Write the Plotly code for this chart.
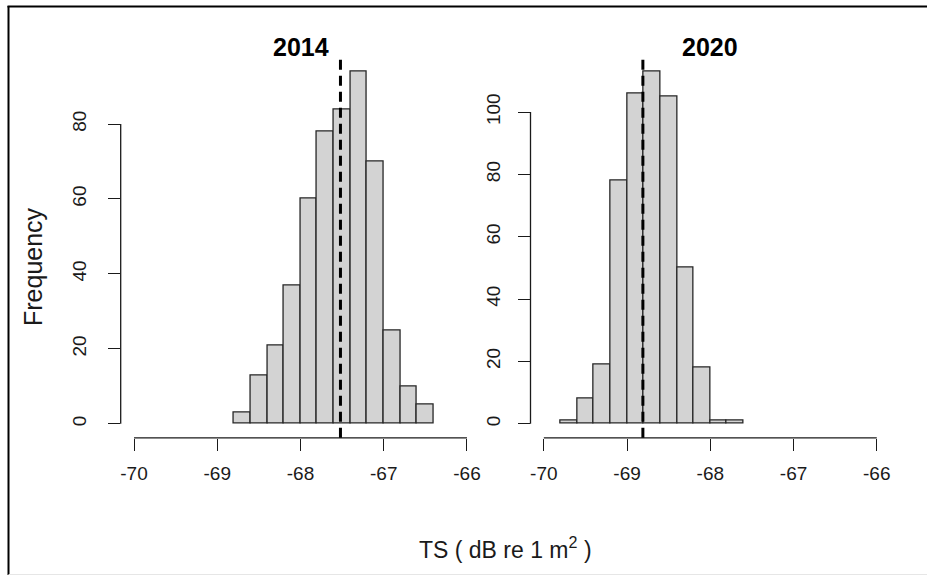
import plotly.graph_objects as go

W, H = 928, 575

# Histogram bins (left edges, bin width 0.2 dB) and counts per year
bin_width = 0.2
left_2014 = [-68.8, -68.6, -68.4, -68.2, -68.0, -67.8, -67.6, -67.4, -67.2, -67.0, -66.8, -66.6]
counts_2014 = [3, 13, 21, 37, 60, 78, 84, 94, 70, 25, 10, 5]
left_2020 = [-69.8, -69.6, -69.4, -69.2, -69.0, -68.8, -68.6, -68.4, -68.2, -68.0, -67.8]
counts_2020 = [1, 8, 19, 78, 106, 113, 105, 50, 18, 1, 1]

# Mean TS per year (dashed reference lines)
mean_2014 = -67.52
mean_2020 = -68.81

years = ["2014", "2020"]
x_ticks = [-70, -69, -68, -67, -66]
y_ticks_2014 = [0, 20, 40, 60, 80]
y_ticks_2020 = [0, 20, 40, 60, 80, 100]

FONT = "Liberation Sans, Arial, sans-serif"
INK = "#1a1a1a"


def px_x(p):
    return p / W


def px_y(p):
    return 1 - p / H


def padded(lo, hi):
    d = (hi - lo) * 0.04
    return [lo - d, hi + d]


panels = [
    dict(left=left_2014, counts=counts_2014, mean=mean_2014, yt=y_ticks_2014, title=years[0],
         dom=(120.7, 480.3), ystand=14),
    dict(left=left_2020, counts=counts_2020, mean=mean_2020, yt=y_ticks_2020, title=years[1],
         dom=(530.5, 890.1), ystand=10),
]

plot_top, plot_bottom = 57.5, 437.8

fig = go.Figure()
shapes = []
annotations = []

for i, p in enumerate(panels):
    n = "" if i == 0 else str(i + 1)
    xa, ya = "x" + n, "y" + n
    centers = [l + bin_width / 2 for l in p["left"]]
    fig.add_trace(go.Bar(
        x=centers, y=p["counts"], width=bin_width,
        marker=dict(color="#D3D3D3", line=dict(color="#262626", width=1.3)),
        xaxis=xa, yaxis=ya, showlegend=False, hoverinfo="x+y",
    ))
    xr = padded(x_ticks[0], x_ticks[-1])
    yr = padded(0, max(p["counts"]))
    fig.layout["xaxis" + n] = dict(
        domain=[px_x(p["dom"][0]), px_x(p["dom"][1])], range=xr, anchor=ya,
        tickvals=x_ticks, ticktext=[f"-{abs(v)}" for v in x_ticks],
        ticks="outside", ticklen=12, tickwidth=1.3, tickcolor=INK,
        showgrid=False, zeroline=False, showline=False,
        tickfont=dict(family=FONT, size=19, color=INK), ticklabelstandoff=6,
    )
    fig.layout["yaxis" + n] = dict(
        domain=[px_y(plot_bottom), px_y(plot_top)], range=yr, anchor=xa,
        tickvals=p["yt"], tickangle=-90,
        ticks="outside", ticklen=12, tickwidth=1.3, tickcolor=INK,
        showgrid=False, zeroline=False, showline=False,
        tickfont=dict(family=FONT, size=19, color=INK), ticklabelstandoff=p["ystand"],
    )
    # axis lines spanning only the tick range
    shapes.append(dict(type="line", xref=xa, yref=ya + " domain",
                       x0=x_ticks[0], x1=x_ticks[-1], y0=0, y1=0,
                       line=dict(color=INK, width=1.3)))
    shapes.append(dict(type="line", xref=xa + " domain", yref=ya,
                       x0=0, x1=0, y0=p["yt"][0], y1=p["yt"][-1],
                       line=dict(color=INK, width=1.3)))
    # dashed mean line
    shapes.append(dict(type="line", xref=xa, yref=ya + " domain",
                       x0=p["mean"], x1=p["mean"], y0=0, y1=1,
                       line=dict(color="black", width=3, dash="10px,6px")))
    annotations.append(dict(
        text=f"<b>{p['title']}</b>", xref="paper", yref="paper",
        x=px_x((p["dom"][0] + p["dom"][1]) / 2), y=px_y(47),
        showarrow=False, xanchor="center", yanchor="middle",
        font=dict(family=FONT, size=25, color="black"),
    ))

annotations.append(dict(
    text="Frequency", xref="paper", yref="paper", x=px_x(33), y=px_y(267),
    textangle=-90, showarrow=False, xanchor="center", yanchor="middle",
    font=dict(family=FONT, size=25, color=INK),
))
annotations.append(dict(
    text="TS ( dB re 1 m<sup>2</sup> )", xref="paper", yref="paper",
    x=px_x(506), y=px_y(548), showarrow=False, xanchor="center", yanchor="middle",
    font=dict(family=FONT, size=23, color=INK),
))

# frame around the figure (top and left edges, faint bottom edge)
shapes.append(dict(type="line", xref="paper", yref="paper",
                   x0=px_x(7.5), x1=px_x(927), y0=px_y(6.5), y1=px_y(6.5),
                   line=dict(color="black", width=2)))
shapes.append(dict(type="line", xref="paper", yref="paper",
                   x0=px_x(8.5), x1=px_x(8.5), y0=px_y(6), y1=0,
                   line=dict(color="black", width=2)))
shapes.append(dict(type="line", xref="paper", yref="paper",
                   x0=px_x(8.5), x1=px_x(927), y0=px_y(574.5), y1=px_y(574.5),
                   line=dict(color="#e6e6e6", width=1)))

fig.update_layout(
    width=W, height=H, margin=dict(l=0, r=0, t=0, b=0),
    paper_bgcolor="white", plot_bgcolor="white",
    shapes=shapes, annotations=annotations, bargap=0,
    font=dict(family=FONT),
)

fig.write_html("out.html")
